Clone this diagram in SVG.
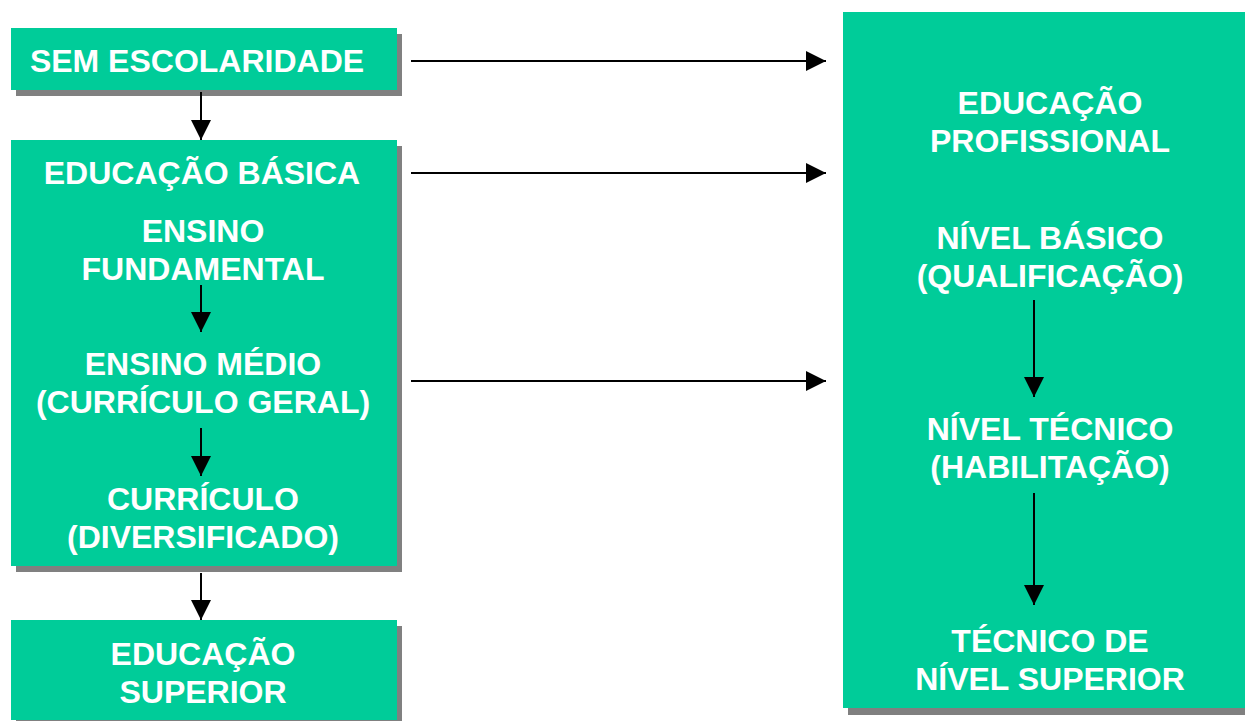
<svg xmlns="http://www.w3.org/2000/svg" width="1245" height="721" viewBox="0 0 1245 721">
<style>
.box{fill:#00CC99}
.sh{fill:#808080}
text{font-family:"Liberation Sans",Arial,sans-serif;font-weight:bold;font-size:32px;fill:#ffffff;text-anchor:middle}
.c line{stroke:#000;stroke-width:2;marker-end:url(#ah)}
</style>
<defs>
<marker id="ah" markerUnits="userSpaceOnUse" markerWidth="20" markerHeight="20" refX="20" refY="10" orient="auto" viewBox="0 0 20 20">
<path d="M0,0 L20,10 L0,20 Z" fill="#000"/>
</marker>
</defs>
<rect width="1245" height="721" fill="#fff"/>
<g id="sem">
<rect class="sh" x="16" y="34" width="386" height="62"/>
<rect class="box" x="11" y="28" width="386" height="62"/>
<text x="197" y="72">SEM ESCOLARIDADE</text>
</g>
<g id="basica">
<rect class="sh" x="16" y="146" width="386" height="426"/>
<rect class="box" x="11" y="140" width="386" height="426"/>
<text x="202" y="184">EDUCAÇÃO BÁSICA</text>
<text x="203" y="242">ENSINO</text>
<text x="203" y="280">FUNDAMENTAL</text>
<text x="203" y="375">ENSINO MÉDIO</text>
<text x="203" y="413">(CURRÍCULO GERAL)</text>
<text x="203" y="510">CURRÍCULO</text>
<text x="203" y="548">(DIVERSIFICADO)</text>
</g>
<g id="superior">
<rect class="sh" x="16" y="626" width="386" height="100"/>
<rect class="box" x="11" y="620" width="386" height="100"/>
<text x="203" y="665">EDUCAÇÃO</text>
<text x="203" y="703">SUPERIOR</text>
</g>
<g id="profissional">
<rect class="sh" x="848" y="18" width="410" height="697"/>
<rect class="box" x="843" y="12" width="410" height="696"/>
<text x="1050" y="114">EDUCAÇÃO</text>
<text x="1050" y="152">PROFISSIONAL</text>
<text x="1050" y="249">NÍVEL BÁSICO</text>
<text x="1050" y="287">(QUALIFICAÇÃO)</text>
<text x="1050" y="440">NÍVEL TÉCNICO</text>
<text x="1050" y="478">(HABILITAÇÃO)</text>
<text x="1050" y="652">TÉCNICO DE</text>
<text x="1050" y="690">NÍVEL SUPERIOR</text>
</g>
<g class="c" id="connectors">
<line x1="411" y1="61" x2="826" y2="61"/>
<line x1="411" y1="173" x2="826" y2="173"/>
<line x1="411" y1="381" x2="826" y2="381"/>
<line x1="201" y1="92" x2="201" y2="140"/>
<line x1="201" y1="285" x2="201" y2="332"/>
<line x1="201" y1="428" x2="201" y2="476"/>
<line x1="201" y1="573" x2="201" y2="620"/>
<line x1="1034" y1="300" x2="1034" y2="397"/>
<line x1="1034" y1="493" x2="1034" y2="605"/>
</g>
</svg>
